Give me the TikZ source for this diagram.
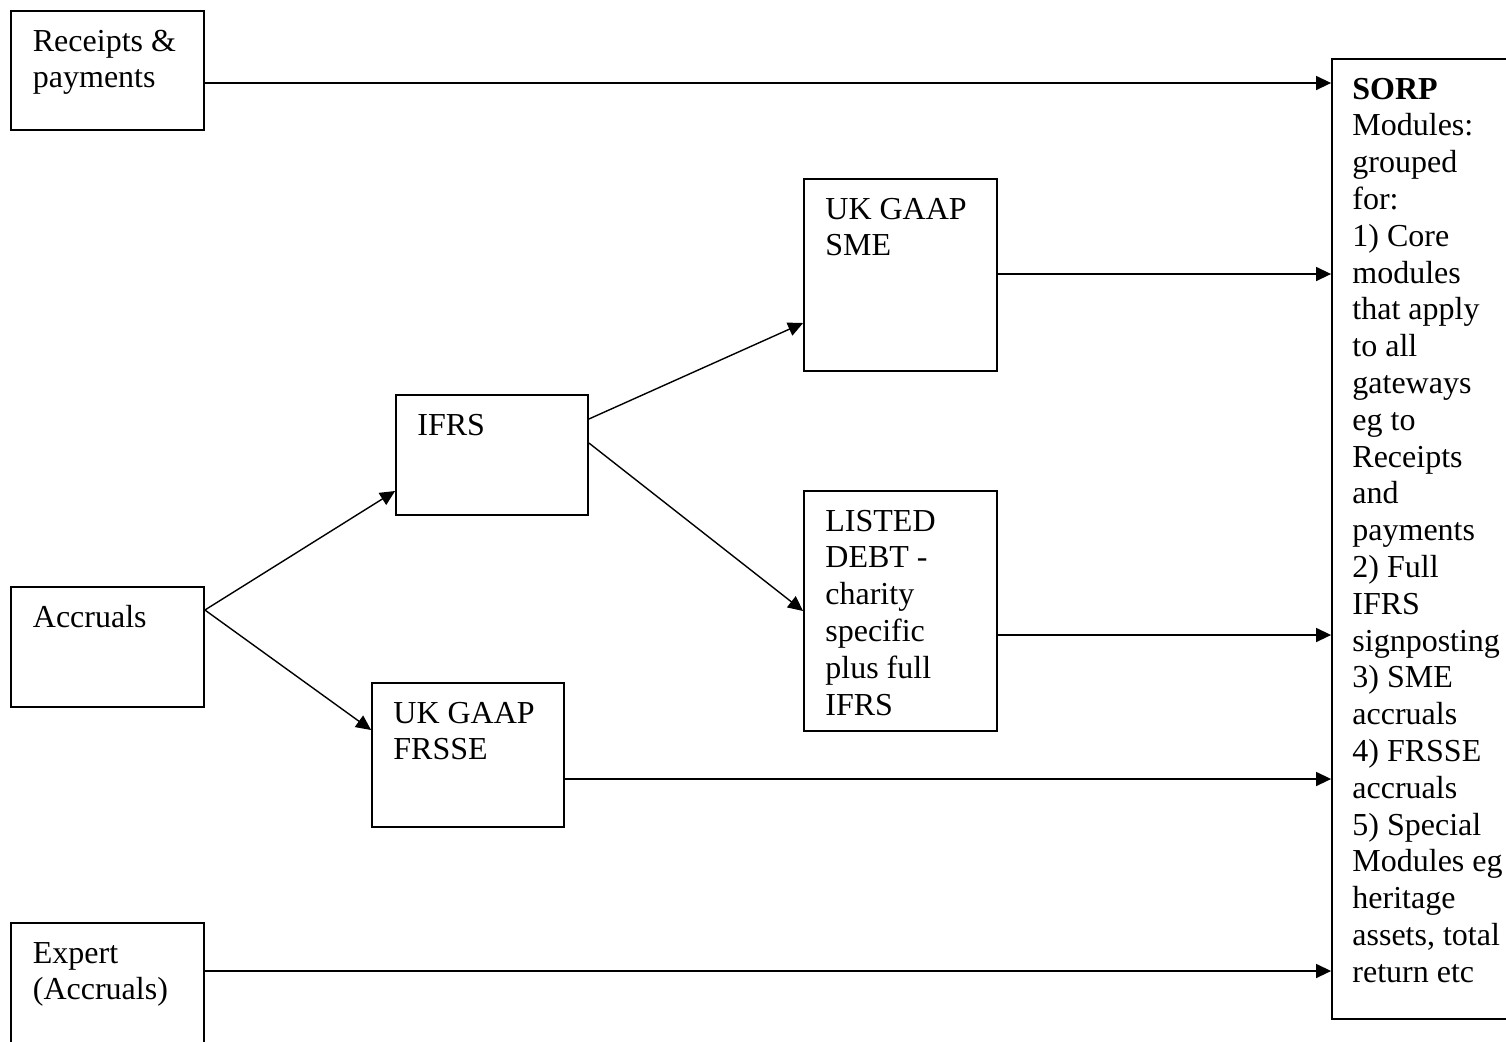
\documentclass[tikz,border=0pt]{standalone}
\usepackage{fontspec}
\setmainfont{Liberation Serif}
\usetikzlibrary{arrows.meta}
\tikzset{
  box/.style={draw=black, line width=0.9pt, rectangle, inner sep=0pt},
  txt/.style={inner sep=0pt, anchor=base west, font=\fontsize{16pt}{18.4pt}\selectfont},
  arr/.style={draw=black, line width=0.7pt, -{Triangle[length=7.5pt,width=7pt]}}
}
\newcommand{\lns}[1]{\begin{tabular}[t]{@{}l@{}}#1\end{tabular}}
\begin{document}
\begin{tikzpicture}[x=0.5pt, y=-0.5pt]
\useasboundingbox (0,0) rectangle (1506,1041);
\fill[white] (0,0) rectangle (1506,1041);
\clip (0,0) rectangle (1506,1041);
% boxes
\node[box, minimum width=96.5pt, minimum height=59.5pt] (rec) at (107.5,70.5) {};
\node[box, minimum width=96.5pt, minimum height=60pt] (acc) at (107.5,647) {};
\node[box, minimum width=96.5pt, minimum height=68.5pt] (exp) at (107.5,991.5) {};
\node[box, minimum width=96pt, minimum height=60pt] (ifrs) at (492,455) {};
\node[box, minimum width=96pt, minimum height=72pt] (frsse) at (468,755) {};
\node[box, minimum width=96.5pt, minimum height=96pt] (sme) at (900.5,275) {};
\node[box, minimum width=96.5pt, minimum height=120pt] (listed) at (900.5,611) {};
\node[box, minimum width=99pt, minimum height=480pt] (sorp) at (1431,539) {};
% texts
\node[txt] (rect) at (32.5,51) {\lns{Receipts \&\\payments}};
\node[txt] (acct) at (32.5,627) {\lns{Accruals}};
\node[txt] (expt) at (32.5,963) {\lns{Expert\\(Accruals)}};
\node[txt] (ifrst) at (417,435) {\lns{IFRS}};
\node[txt] (frsset) at (393,723) {\lns{UK GAAP\\FRSSE}};
\node[txt] (smet) at (825,219) {\lns{UK GAAP\\SME}};
\node[txt] (listedt) at (825,531) {\lns{LISTED\\DEBT -\\charity\\specific\\plus full\\IFRS}};
\node[txt] (sorpt) at (1352,99) {\lns{\textbf{SORP}\\Modules:\\grouped\\for:\\1) Core\\modules\\that apply\\to all\\gateways\\eg to\\Receipts\\and\\payments\\2) Full\\IFRS\\signposting\\3) SME\\accruals\\4) FRSSE\\accruals\\5) Special\\Modules eg\\heritage\\assets, total\\return etc}};
% connectors
\draw[arr] (rec.east |- 0,83) -- (sorp.west |- 0,83);
\draw[arr] (sme.east |- 0,274) -- (sorp.west |- 0,274);
\draw[arr] (listed.east |- 0,635) -- (sorp.west |- 0,635);
\draw[arr] (frsse.east |- 0,779) -- (sorp.west |- 0,779);
\draw[arr] (exp.east |- 0,971) -- (sorp.west |- 0,971);
\draw[arr] (acc.east |- 0,610) -- (ifrs.west |- 0,491);
\draw[arr] (acc.east |- 0,610) -- (frsse.west |- 0,730);
\draw[arr] (ifrs.east |- 0,419) -- (sme.west |- 0,323);
\draw[arr] (ifrs.east |- 0,443) -- (listed.west |- 0,611);
\end{tikzpicture}
\end{document}
